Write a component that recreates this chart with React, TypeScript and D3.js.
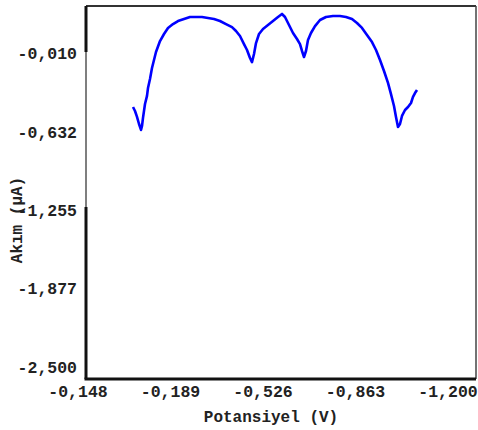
import * as d3 from 'd3';

// potential (V) and current (µA)
const potential = [
  -0.0335, -0.0409, -0.0483, -0.0557, -0.0631, -0.0668, -0.0705, -0.0779, -0.0853, -0.089,
  -0.0964, -0.1038, -0.1112, -0.1186, -0.1335, -0.1483, -0.1631, -0.1816, -0.2001, -0.2223,
  -0.2446, -0.2668, -0.289, -0.3112, -0.3334, -0.3556, -0.3779, -0.4001, -0.4149, -0.4297,
  -0.4445, -0.4557, -0.4667, -0.4741, -0.4816, -0.489, -0.5001, -0.5149, -0.5334, -0.5519,
  -0.5704, -0.5852, -0.5964, -0.6112, -0.626, -0.6408, -0.6519, -0.6593, -0.6667, -0.6741,
  -0.6815, -0.6926, -0.7075, -0.726, -0.7482, -0.7741, -0.8, -0.8223, -0.8445, -0.863,
  -0.8815, -0.9, -0.9186, -0.9334, -0.9482, -0.963, -0.9778, -0.9889, -1.0, -1.0074,
  -1.0148, -1.0222, -1.0296, -1.0408, -1.0519, -1.063, -1.0704, -1.0778, -1.0852,
];
const current = [
  -0.435, -0.467, -0.514, -0.57, -0.617, -0.586, -0.522, -0.411, -0.347, -0.284,
  -0.212, -0.125, -0.062, 0.002, 0.089, 0.145, 0.193, 0.224, 0.248, 0.264,
  0.28, 0.28, 0.28, 0.272, 0.264, 0.248, 0.224, 0.2, 0.169, 0.129,
  0.065, 0.018, -0.046, -0.078, -0.014, 0.073, 0.145, 0.185, 0.216, 0.248,
  0.28, 0.304, 0.28, 0.216, 0.153, 0.105, 0.065, 0.01, -0.038, 0.01,
  0.097, 0.153, 0.208, 0.256, 0.28, 0.288, 0.288, 0.28, 0.264, 0.232,
  0.193, 0.137, 0.081, 0.018, -0.062, -0.149, -0.244, -0.332, -0.427, -0.514,
  -0.594, -0.57, -0.506, -0.459, -0.435, -0.403, -0.355, -0.324, -0.3,
];

const yTicks = [-0.01, -0.632, -1.255, -1.877, -2.5];
const xTickLabels = ['-0,148', '-0,189', '-0,526', '-0,863', '-1,200'];

const fmt = (v: number) => v.toFixed(3).replace('.', ',');

export default function App() {
  const W = 478;
  const H = 430;
  const left = 86, right = 476, top = 6, bottom = 379;

  const x = d3.scaleLinear().domain([-0.189, -1.2]).range([175, 448]);
  const y = d3.scaleLinear().domain([-0.01, -2.5]).range([53.5, 367]);
  const xLab = d3.scalePoint<string>().domain(xTickLabels).range([78, 448]);

  const line = d3.line<number>()
    .x((_, i) => x(potential[i]))
    .y((d) => y(d));

  const font = '"Liberation Mono", "DejaVu Sans Mono", monospace';

  return (
    <div style={{ position: 'absolute', left: 0, top: 0, width: W, height: H, background: '#fff' }}>
      <svg width={W} height={H} style={{ display: 'block' }}>
        <rect width={W} height={H} fill="#fff" />

        {/* frame */}
        <line x1={left} x2={right} y1={top} y2={top} stroke="#333" strokeWidth={2} />
        <line x1={right} x2={right} y1={top} y2={bottom} stroke="#444" strokeWidth={1.5} />
        <line x1={left} x2={left} y1={top} y2={52} stroke="#111" strokeWidth={3} />
        <line x1={left} x2={left} y1={52} y2={207} stroke="#555" strokeWidth={1.5} />
        <line x1={left} x2={left} y1={207} y2={bottom} stroke="#111" strokeWidth={3} />
        <line x1={left - 1.5} x2={right} y1={bottom} y2={bottom} stroke="#111" strokeWidth={3} />

        <path d={line(current) ?? ''} fill="none" stroke="#0000ff" strokeWidth={2.6} strokeLinejoin="round" />

        {/* y tick labels */}
        {yTicks.map((t) => (
          <text key={t} x={77} y={y(t)} dy="0.35em" textAnchor="end"
            fontFamily={font} fontWeight="bold" fontSize={16.5} fill="#222">
            {fmt(t)}
          </text>
        ))}

        {/* x tick labels */}
        {xTickLabels.map((t) => (
          <text key={t} x={xLab(t)} y={397} textAnchor="middle"
            fontFamily={font} fontWeight="bold" fontSize={16.5} fill="#222">
            {t}
          </text>
        ))}

        <text x={271} y={422} textAnchor="middle" fontFamily={font} fontWeight="bold" fontSize={16} fill="#222">
          Potansiyel (V)
        </text>
        <text transform="translate(22,220) rotate(-90)" textAnchor="middle" fontFamily={font}
          fontWeight="bold" fontSize={16} fill="#222">
          Akım (µA)
        </text>
      </svg>
    </div>
  );
}
